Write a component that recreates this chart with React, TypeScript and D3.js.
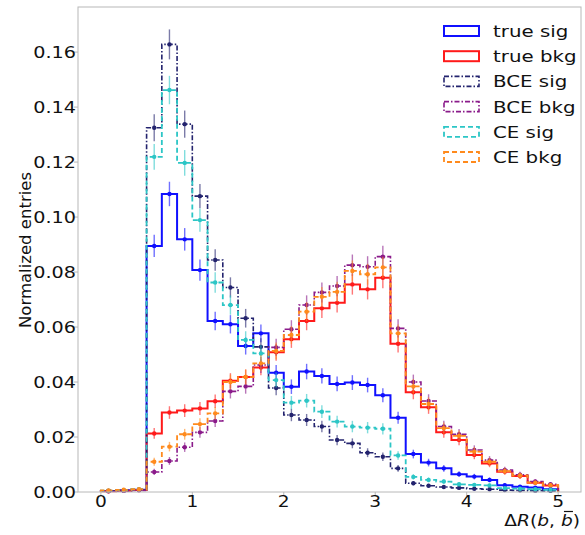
import React from 'react';
import * as d3 from 'd3';

// 30 bins of width 1/6 between 0 and 5
const binEdges = d3.range(31).map(i => i / 6);

const trueSig = [0.0004, 0.0006, 0.0008, 0.0895, 0.1084, 0.0919, 0.0807, 0.0622, 0.0610, 0.0531,
  0.0577, 0.0434, 0.0383, 0.0438, 0.0422, 0.0393, 0.0398, 0.0389, 0.0352, 0.0270,
  0.0138, 0.0107, 0.0086, 0.0065, 0.0056, 0.0044, 0.0025, 0.0019, 0.0016, 0.0010];

const trueBkg = [0.0003, 0.0005, 0.0007, 0.0213, 0.0289, 0.0296, 0.0304, 0.0330, 0.0405, 0.0418,
  0.0453, 0.0508, 0.0556, 0.0622, 0.0668, 0.0688, 0.0755, 0.0737, 0.0779, 0.0539,
  0.0363, 0.0308, 0.0217, 0.0189, 0.0135, 0.0104, 0.0074, 0.0058, 0.0034, 0.0024];

const bceSig = [0.0004, 0.0005, 0.0008, 0.1325, 0.1628, 0.1338, 0.1076, 0.0844, 0.0744, 0.0632,
  0.0528, 0.0378, 0.0280, 0.0262, 0.0238, 0.0189, 0.0177, 0.0143, 0.0128, 0.0086,
  0.0032, 0.0023, 0.0018, 0.0015, 0.0012, 0.0010, 0.0007, 0.0006, 0.0005, 0.0004];

const bceBkg = [0.0003, 0.0004, 0.0006, 0.0073, 0.0113, 0.0163, 0.0217, 0.0258, 0.0366, 0.0384,
  0.0462, 0.0526, 0.0592, 0.0680, 0.0726, 0.0749, 0.0825, 0.0819, 0.0856, 0.0595,
  0.0400, 0.0331, 0.0238, 0.0210, 0.0153, 0.0116, 0.0080, 0.0063, 0.0038, 0.0028];

const ceSig = [0.0005, 0.0007, 0.0010, 0.1219, 0.1462, 0.1197, 0.0989, 0.0762, 0.0680, 0.0553,
  0.0504, 0.0407, 0.0325, 0.0332, 0.0292, 0.0256, 0.0238, 0.0234, 0.0230, 0.0133,
  0.0055, 0.0044, 0.0038, 0.0028, 0.0026, 0.0024, 0.0014, 0.0012, 0.0010, 0.0008];

const ceBkg = [0.0006, 0.0008, 0.0010, 0.0110, 0.0165, 0.0210, 0.0247, 0.0286, 0.0400, 0.0418,
  0.0468, 0.0513, 0.0571, 0.0656, 0.0710, 0.0728, 0.0804, 0.0792, 0.0817, 0.0577,
  0.0384, 0.0320, 0.0232, 0.0204, 0.0147, 0.0110, 0.0076, 0.0060, 0.0034, 0.0025];

const labels = ['true sig', 'true bkg', 'BCE sig', 'BCE bkg', 'CE sig', 'CE bkg'];
const colors = ['#1010ff', '#ff1a1a', '#23236e', '#8a1a8a', '#2cc6c6', '#ff8a1c'];
const dashes = [null, null, '5,2,1.5,2', '5,2,1.5,2', '5,3', '5,3'];
const widths = [2, 2, 1.6, 1.6, 1.8, 1.8];
const allValues = [trueSig, trueBkg, bceSig, bceBkg, ceSig, ceBkg];

const yTicks = [0, 0.02, 0.04, 0.06, 0.08, 0.10, 0.12, 0.14, 0.16];
const xTicks = [0, 1, 2, 3, 4, 5];

const FONT = 'DejaVu Sans';
const SX = 1.2; // picture is stretched horizontally

export default function App() {
  const x = d3.scaleLinear().domain([-0.25, 5.25]).range([78, 581]);
  const y = d3.scaleLinear().domain([0, 0.1764]).range([492, 7]);
  const line = d3.line<[number, number]>().x(d => x(d[0])).y(d => y(d[1]));

  const stepPoints = (vals: number[]) => {
    const pts: [number, number][] = [[binEdges[0], 0]];
    vals.forEach((v, i) => {
      pts.push([binEdges[i], v]);
      pts.push([binEdges[i + 1], v]);
    });
    pts.push([binEdges[binEdges.length - 1], 0]);
    return pts;
  };

  // x label: "ΔR(b, b̄)" right-aligned at the axes edge, macron drawn as a short bar
  const xlFont = 15.5;
  const xlRight = 580;
  const em = xlFont * SX;
  const barCx = xlRight - (0.39 + 0.635 / 2 - 0.06) * em;

  return (
    <svg width={585} height={535} style={{position: 'absolute', left: 0, top: 0, background: '#fff'}}
      fontFamily={FONT}>
      {/* histograms */}
      {allValues.map((vals, s) => (
        <path key={'h' + s} d={line(stepPoints(vals)) || ''} fill="none" stroke={colors[s]}
          strokeWidth={widths[s]} strokeDasharray={dashes[s] || undefined} strokeLinejoin="miter" />
      ))}
      {/* error bars */}
      {allValues.map((vals, s) => (
        <g key={'e' + s}>
          {vals.map((v, i) => {
            const cx = x((binEdges[i] + binEdges[i + 1]) / 2);
            const err = 0.0135 * Math.sqrt(v);
            return (
              <g key={i}>
                <line x1={cx} x2={cx} y1={y(v - err)} y2={y(v + err)} stroke={colors[s]}
                  strokeWidth={1.4} strokeOpacity={0.6} />
                <circle cx={cx} cy={y(v)} r={2.2} fill={colors[s]} />
              </g>
            );
          })}
        </g>
      ))}
      {/* axes frame */}
      <rect x={78} y={7} width={503} height={485} fill="none" stroke="#b8b8b8" strokeWidth={1} />
      {yTicks.map(t => (
        <g key={'y' + t}>
          <line x1={74} x2={78} y1={y(t)} y2={y(t)} stroke="#b8b8b8" />
          <text transform={`translate(76,${y(t) + 6}) scale(${SX},1)`} textAnchor="end"
            fontSize={16} fill="#111">{d3.format('.2f')(t)}</text>
        </g>
      ))}
      {xTicks.map(t => (
        <g key={'x' + t}>
          <line x1={x(t)} x2={x(t)} y1={492} y2={496} stroke="#b8b8b8" />
          <text transform={`translate(${x(t)},${507}) scale(${SX},1)`} textAnchor="middle"
            fontSize={15.5} fill="#111">{t}</text>
        </g>
      ))}
      <text transform={`translate(31,250) rotate(-90)`} textAnchor="middle" fontSize={16.5}
        fill="#111">Normalized entries</text>
      <text transform={`translate(${xlRight},526) scale(${SX},1)`} textAnchor="end" fontSize={xlFont} fill="#111">
        <tspan>Δ</tspan>
        <tspan fontStyle="italic">R</tspan>
        <tspan>(</tspan>
        <tspan fontStyle="italic">b</tspan>
        <tspan>, </tspan>
        <tspan fontStyle="italic">b</tspan>
        <tspan>)</tspan>
      </text>
      <line x1={barCx - 4} x2={barCx + 5} y1={511.5} y2={511.5} stroke="#111" strokeWidth={1.2} />
      {/* legend */}
      {labels.map((lab, s) => (
        <g key={'l' + s} transform={`translate(444,${31 + s * 25.2})`}>
          <rect x={0} y={-5} width={35} height={10} fill="none" stroke={colors[s]}
            strokeWidth={widths[s]} strokeDasharray={dashes[s] || undefined} />
          <text transform={`translate(49,6) scale(${SX},1)`} fontSize={16.5} fill="#111">{lab}</text>
        </g>
      ))}
    </svg>
  );
}
